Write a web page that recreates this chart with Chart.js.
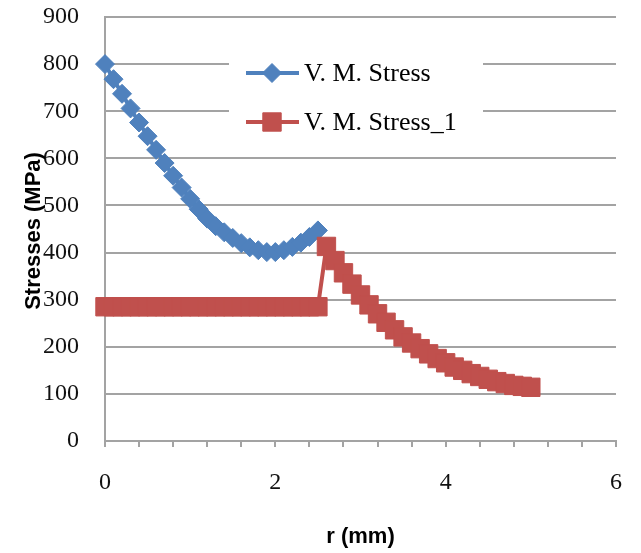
<!DOCTYPE html>
<html>
<head>
<meta charset="utf-8">
<title>V.M. Stress vs r</title>
<script src="https://cdn.jsdelivr.net/npm/chart.js@4.4.1/dist/chart.umd.min.js"></script>
<style>
  html, body { margin: 0; padding: 0; background: #fff; }
  canvas { display: block; }
</style>
</head>
<body>
<canvas id="stressChart" width="641" height="553"></canvas>
<script>
// data
const rBlue = [0, 0.1, 0.2, 0.3, 0.4, 0.5, 0.6, 0.7, 0.8, 0.9, 1.0, 1.1, 1.2, 1.3, 1.4, 1.5, 1.6, 1.7, 1.8, 1.9, 2.0, 2.1, 2.2, 2.3, 2.4, 2.5];
const vmStress = [800, 768, 737, 706, 676, 647, 618, 590, 563, 538, 514, 492, 472, 456, 443, 431, 420, 411, 405, 401, 401, 405, 412, 421, 433, 447];

const rRed = [0, 0.1, 0.2, 0.3, 0.4, 0.5, 0.6, 0.7, 0.8, 0.9, 1.0, 1.1, 1.2, 1.3, 1.4, 1.5, 1.6, 1.7, 1.8, 1.9, 2.0, 2.1, 2.2, 2.3, 2.4, 2.5,
  2.6, 2.7, 2.8, 2.9, 3.0, 3.1, 3.2, 3.3, 3.4, 3.5, 3.6, 3.7, 3.8, 3.9, 4.0, 4.1, 4.2, 4.3, 4.4, 4.5, 4.6, 4.7, 4.8, 4.9, 5.0];
const vmStress1 = [285, 285, 285, 285, 285, 285, 285, 285, 285, 285, 285, 285, 285, 285, 285, 285, 285, 285, 285, 285, 285, 285, 285, 285, 285, 285,
  413, 383, 357, 333, 310, 289, 270, 252, 236, 221, 208, 196, 185, 175, 166, 157, 150, 143, 137, 131, 126, 122, 118, 116, 114];

const seriesNames = ['V. M. Stress', 'V. M. Stress_1'];
const xTitle = 'r (mm)';
const yTitle = 'Stresses (MPa)';

const BLUE = '#4F81BD';
const RED = '#C0504D';
const GRID = '#a3a3a3';
const tickFont = { family: '"Liberation Serif", "Times New Roman", serif', size: 24 };

const toPoints = (xs, ys) => xs.map((x, i) => ({ x, y: ys[i] }));

// y title overlaps the tick labels in the original, and the legend sits inside the plot
const overlay = {
  id: 'overlay',
  afterDraw(chart) {
    const ctx = chart.ctx;
    ctx.save();
    ctx.translate(34, 231);
    ctx.rotate(-Math.PI / 2);
    ctx.font = 'bold 22px "Liberation Sans", Arial, sans-serif';
    ctx.fillStyle = '#000';
    ctx.textAlign = 'center';
    ctx.textBaseline = 'middle';
    ctx.fillText(yTitle, 0, 0);
    ctx.restore();

    // legend box
    ctx.save();
    ctx.fillStyle = '#fff';
    ctx.fillRect(229, 44, 254, 104);
    chart.data.datasets.forEach((ds, i) => {
      const y = 73 + i * 49;
      ctx.strokeStyle = ds.borderColor;
      ctx.lineWidth = ds.borderWidth;
      ctx.beginPath();
      ctx.moveTo(246, y);
      ctx.lineTo(299, y);
      ctx.stroke();
      ctx.fillStyle = ds.pointBackgroundColor;
      ctx.strokeStyle = ds.pointBorderColor;
      ctx.lineWidth = ds.pointBorderWidth;
      Chart.helpers.drawPoint(ctx, { pointStyle: ds.pointStyle, radius: ds.pointRadius, rotation: 0, borderWidth: ds.pointBorderWidth }, 272, y);
      ctx.fillStyle = '#000';
      ctx.font = '26px "Liberation Serif", "Times New Roman", serif';
      ctx.textAlign = 'left';
      ctx.textBaseline = 'middle';
      ctx.fillText(ds.label, 304, y + 1);
    });
    ctx.restore();
  }
};

new Chart(document.getElementById('stressChart'), {
  type: 'scatter',
  data: {
    datasets: [
      {
        label: seriesNames[0],
        data: toPoints(rBlue, vmStress),
        showLine: true,
        borderColor: BLUE,
        borderWidth: 4,
        pointStyle: 'rectRot',
        pointRadius: 9.5,
        pointBackgroundColor: BLUE,
        pointBorderColor: BLUE,
        pointBorderWidth: 1,
        clip: false,
        order: 1
      },
      {
        label: seriesNames[1],
        data: toPoints(rRed, vmStress1),
        showLine: true,
        borderColor: RED,
        borderWidth: 4,
        pointStyle: 'rect',
        pointRadius: 13,
        pointBackgroundColor: RED,
        pointBorderColor: RED,
        pointBorderWidth: 1,
        clip: false,
        order: 0
      }
    ]
  },
  options: {
    responsive: false,
    animation: false,
    layout: { padding: { left: 0, top: 17, right: 25, bottom: 0 } },
    plugins: {
      legend: { display: false },
      tooltip: { enabled: false }
    },
    scales: {
      x: {
        type: 'linear',
        min: 0,
        max: 6,
        afterFit: s => { s.height = 112; s.paddingLeft = 0; s.paddingRight = 0; },
        border: { display: true, color: GRID, width: 2 },
        grid: { drawOnChartArea: false, drawTicks: true, tickLength: 6, color: GRID, lineWidth: 2 },
        ticks: {
          stepSize: 0.4,
          autoSkip: false,
          maxTicksLimit: 30,
          maxRotation: 0,
          padding: 21,
          color: '#111',
          font: tickFont,
          callback: v => {
            const h = v / 2;
            return Math.abs(h - Math.round(h)) < 1e-6 ? String(Math.round(v)) : '';
          }
        },
        title: {
          display: true,
          text: xTitle,
          color: '#000',
          font: { family: '"Liberation Sans", Arial, sans-serif', size: 22, weight: 'bold' },
          padding: { top: 0, bottom: 3 }
        }
      },
      y: {
        min: 0,
        max: 900,
        afterFit: s => { s.width = 105; s.paddingTop = 0; s.paddingBottom = 0; },
        border: { display: true, color: GRID, width: 2 },
        grid: { color: GRID, lineWidth: 2, drawTicks: false },
        ticks: {
          stepSize: 100,
          padding: 26,
          color: '#111',
          font: tickFont
        }
      }
    }
  },
  plugins: [overlay]
});
</script>
</body>
</html>
